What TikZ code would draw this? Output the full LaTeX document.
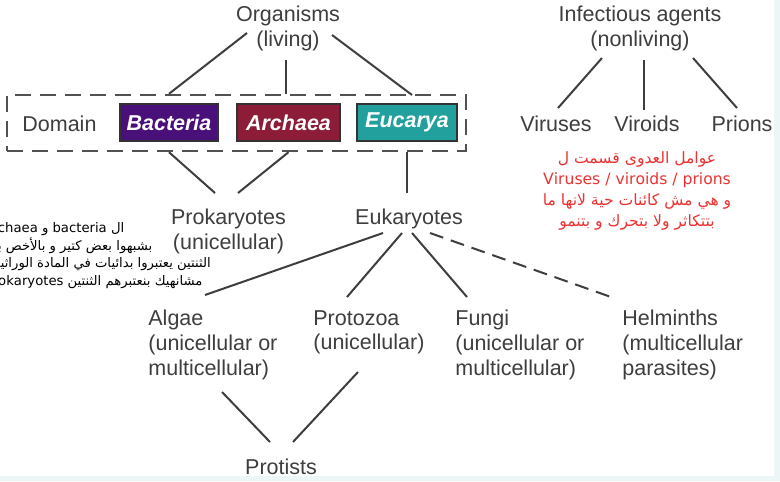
\documentclass[tikz,border=0pt]{standalone}
\usepackage{fontspec}
\setmainfont{Liberation Sans}
\newfontfamily\arabicfont[Script=Arabic]{DejaVu Sans}
\TeXXeTstate=1
\usetikzlibrary{positioning}

\definecolor{ink}{RGB}{62,62,62}
\definecolor{bacpurple}{RGB}{74,16,122}
\definecolor{arcred}{RGB}{140,28,56}
\definecolor{eucteal}{RGB}{34,160,158}
\definecolor{notered}{RGB}{236,50,50}
\definecolor{gridcyan}{RGB}{236,246,246}

\begin{document}
\begin{tikzpicture}[x=0.5pt, y=-0.5pt,
  txt/.style={font=\fontsize{10.75}{12.4}\selectfont, text=ink, inner sep=0pt},
  dombox/.style={draw=black!80, line width=0.7pt, fill=#1, text=white,
    font=\fontsize{10.75}{12}\selectfont\bfseries\itshape,
    minimum height=18.5pt, inner sep=0pt},
  link/.style={draw=ink, line width=1pt},
  dashlink/.style={link, dash pattern=on 7pt off 4pt},
  arabnote/.style={font=\arabicfont\fontsize{6.6}{8.85}\selectfont, text=black, inner sep=0pt}]

\useasboundingbox (0,0) rectangle (780,481);
\clip (0,0) rectangle (780,481);
\fill[white] (0,0) rectangle (780,481);
\fill[gridcyan] (0,476) rectangle (780,481);
\fill[gridcyan] (774,0) rectangle (780,481);

% living side
\node[txt, align=center, anchor=north] (org) at (288,6) {Organisms\\(living)};
\node[draw=ink!90, line width=1.2pt, dash pattern=on 8pt off 4.5pt,
  minimum width=229.5pt, minimum height=28pt, inner sep=0pt] (dom) at (236.5,123) {};
\node[txt, anchor=west] (domain) at (22,124) {Domain};
\node[dombox=bacpurple, minimum width=49pt] (bac) at (169,122.5) {Bacteria};
\node[dombox=arcred, minimum width=51.5pt] (arc) at (288.5,122.5) {Archaea};
\node[dombox=eucteal, minimum width=50pt] (euc) at (407,122.5) {Eucarya};

\node[txt, align=center, anchor=north] (prok) at (228.5,209) {Prokaryotes\\(unicellular)};
\node[txt, anchor=north] (euk) at (409,209) {Eukaryotes};

\node[txt, align=left, anchor=north west] (alg) at (148,310) {Algae\\(unicellular or\\multicellular)};
\node[txt, align=left, anchor=north west] (proto) at (313,310) {Protozoa\\(unicellular)};
\node[txt, align=left, anchor=north west] (fun) at (455,310) {Fungi\\(unicellular or\\multicellular)};
\node[txt, align=left, anchor=north west] (helm) at (622,310) {Helminths\\(multicellular\\parasites)};
\node[txt, anchor=north] (prot) at (281,459) {Protists};

% nonliving side
\node[txt, align=center, anchor=north] (inf) at (640,6) {Infectious agents\\(nonliving)};
\node[txt, anchor=north] (vir) at (556,116) {Viruses};
\node[txt, anchor=north] (vrd) at (647,116) {Viroids};
\node[txt, anchor=north] (pri) at (742,116) {Prions};

% line ends
\coordinate (orgL) at (247,33);
\coordinate (orgM) at (286,60);
\coordinate (orgR) at (332,35);
\coordinate (infL) at (602,58);
\coordinate (infM) at (644,60);
\coordinate (infR) at (693,58);
\coordinate (prokL) at (215,193);
\coordinate (prokR) at (238,193);
\coordinate (eukA) at (383,233);
\coordinate (eukP) at (402,233);
\coordinate (eukF) at (412,233);
\coordinate (eukH) at (430,233);
\coordinate (algB) at (222,392);
\coordinate (protoB) at (358,372);

\draw[link] (orgL) -- (bac |- dom.north);
\draw[link] (orgM) -- (orgM |- dom.north);
\draw[link] (orgR) -- (412,95);
\draw[link] (bac |- dom.south) -- (prokL);
\draw[link] (arc |- dom.south) -- (prokR);
\draw[link] (euc |- dom.south) -- (euc |- 0,193);

\draw[link] (eukA) -- (205,295);
\draw[link] (eukP) -- (347,297);
\draw[link] (eukF) -- (467,297);
\draw[dashlink] (eukH) -- (611,297);
\draw[link] (algB) -- (270,442);
\draw[link] (protoB) -- (293,442);

\draw[link] (infL) -- (558,108);
\draw[link] (infM) -- (644,110);
\draw[link] (infR) -- (737,108);

% notes
\node[arabnote, text=notered, font=\arabicfont\fontsize{7.8}{10.5}\selectfont,
  align=center, anchor=north] (agentsnote) at (637,151)
  {\beginR عوامل العدوى قسمت ل\endR\\
   Viruses / viroids / prions\\
   \beginR و هي مش كائنات حية لانها ما\endR\\
   \beginR بتتكاثر ولا بتحرك و بتنمو\endR};
\node[arabnote, align=left, anchor=north west] (prokarnote) at (-16,222)
  {\beginR ال bacteria و archaea\endR\\
   \beginR بشبهوا بعض كتير  و بالأخص بال\endR\\
   \beginR الثنتين يعتبروا بدائيات في المادة الوراثية (\endR\\
   \beginR مشانهيك بنعتبرهم الثنتين prokaryotes\endR};
\end{tikzpicture}
\end{document}
